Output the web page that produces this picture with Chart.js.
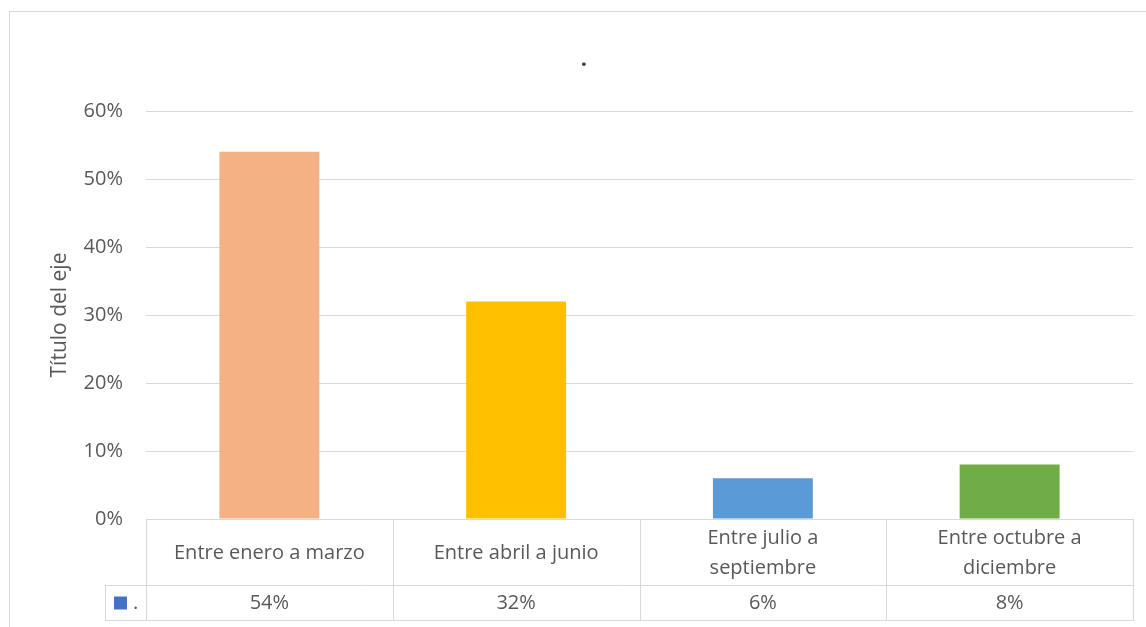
<!DOCTYPE html>
<html>
<head>
<meta charset="utf-8">
<script src="https://cdn.jsdelivr.net/npm/chart.js@4/dist/chart.umd.min.js"></script>
<style>
  html, body { margin: 0; padding: 0; background: #fff; }
  #wrap { width: 1146px; height: 627px; position: relative; }
</style>
</head>
<body>
<div id="wrap"><canvas id="chart" width="1146" height="627"></canvas></div>
<script>
// Data
const categories = [
  ["Entre enero a marzo"],
  ["Entre abril a junio"],
  ["Entre julio a", "septiembre"],
  ["Entre octubre a", "diciembre"]
];
const values = [0.54, 0.32, 0.06, 0.08];
const valueLabels = ["54%", "32%", "6%", "8%"];
const barColors = ["#F4B183", "#FFC000", "#5B9BD5", "#70AD47"];
const seriesName = ".";
const seriesColor = "#4472C4";
const axisTitle = "Título del eje";

const FONT = "'Open Sans', sans-serif";
const TEXT = "#595959";
const LINE = "#d9d9d9";

// Draws the outer frame, the title dot and the data table under the plot
const tablePlugin = {
  id: "dataTable",
  afterDraw(chart) {
    const ctx = chart.ctx;
    const x = chart.scales.x;
    const area = chart.chartArea;
    const rowTop = area.bottom;
    const rowMid = area.bottom + 66;
    const rowBot = area.bottom + 101;
    const keyLeft = 105;

    ctx.save();
    ctx.strokeStyle = LINE;
    ctx.lineWidth = 1;

    // outer frame
    ctx.strokeRect(9.5, 11.5, 1200, 700);

    // table lines
    const half = (x.getPixelForValue(1) - x.getPixelForValue(0)) / 2;
    const edges = [x.getPixelForValue(0) - half];
    categories.forEach((c, i) => edges.push(x.getPixelForValue(i) + half));
    const right = Math.round(edges[edges.length - 1]) + 0.5;
    ctx.beginPath();
    ctx.moveTo(Math.round(edges[0]) + 0.5, rowTop + 0.5);
    ctx.lineTo(right, rowTop + 0.5);
    ctx.moveTo(keyLeft + 0.5, rowMid + 0.5);
    ctx.lineTo(right, rowMid + 0.5);
    ctx.moveTo(keyLeft + 0.5, rowBot + 0.5);
    ctx.lineTo(right, rowBot + 0.5);
    edges.forEach(e => {
      ctx.moveTo(Math.round(e) + 0.5, rowTop);
      ctx.lineTo(Math.round(e) + 0.5, rowBot + 1);
    });
    ctx.moveTo(keyLeft + 0.5, rowMid);
    ctx.lineTo(keyLeft + 0.5, rowBot + 1);
    ctx.stroke();

    // category labels and values
    ctx.fillStyle = TEXT;
    ctx.font = "20px " + FONT;
    ctx.textAlign = "center";
    ctx.textBaseline = "middle";
    categories.forEach((lines, i) => {
      const c = x.getPixelForValue(i);
      const mid = (rowTop + rowMid) / 2 + 1;
      const lh = 30;
      lines.forEach((t, j) => {
        ctx.fillText(t, c, mid + (j - (lines.length - 1) / 2) * lh);
      });
      ctx.fillText(valueLabels[i], c, (rowMid + rowBot) / 2 + 1);
    });

    // legend key
    ctx.fillStyle = seriesColor;
    ctx.fillRect(114, (rowMid + rowBot) / 2 - 6, 13, 13);
    ctx.fillStyle = TEXT;
    ctx.textAlign = "left";
    ctx.fillText(seriesName, 133, (rowMid + rowBot) / 2 + 1);

    // title
    ctx.fillStyle = "#404040";
    ctx.textAlign = "center";
    ctx.font = "bold 22px " + FONT;
    ctx.fillText(".", 584, 60);
    ctx.restore();
  }
};

new Chart(document.getElementById("chart"), {
  type: "bar",
  data: {
    labels: categories,
    datasets: [{
      label: seriesName,
      data: values,
      backgroundColor: barColors,
      categoryPercentage: 1,
      barPercentage: 0.405
    }]
  },
  options: {
    responsive: false,
    animation: false,
    layout: { padding: { left: 40, right: 13, top: 111, bottom: 108 } },
    plugins: {
      legend: { display: false },
      tooltip: { enabled: false }
    },
    scales: {
      x: { display: false },
      y: {
        min: 0,
        max: 0.6,
        afterFit: s => { s.width = 106; },
        ticks: {
          stepSize: 0.1,
          padding: 23,
          color: TEXT,
          font: { family: FONT, size: 20 },
          callback: v => Math.round(v * 100) + "%"
        },
        grid: { color: LINE, drawTicks: false },
        border: { display: false },
        title: {
          display: true,
          text: axisTitle,
          color: TEXT,
          padding: { top: 7, bottom: 0 },
          font: { family: FONT, size: 21 }
        }
      }
    }
  },
  plugins: [tablePlugin]
});
</script>
</body>
</html>
